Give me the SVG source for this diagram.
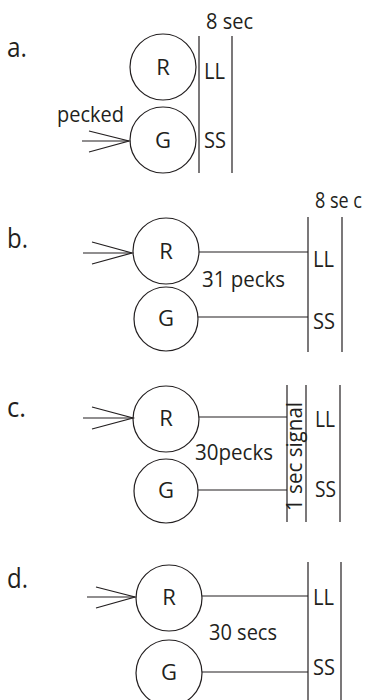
<svg xmlns="http://www.w3.org/2000/svg" width="370" height="700" viewBox="0 0 370 700">
<style>
text{font-family:"Open Sans","Noto Sans","Liberation Sans",sans-serif;fill:#231f20;font-size:22px}
.lbl{font-size:27px}
.mid{text-anchor:middle}
.node circle{fill:none;stroke:#231f20;stroke-width:1.2}
.conn line,.conn polyline{fill:none;stroke:#231f20;stroke-width:1.2}
.bar{stroke:#3a3a3a;stroke-width:1.6}
</style>
<rect width="370" height="700" fill="#fff"/>

<!-- Panel a -->
<text class="lbl" x="7" y="57" textLength="20" lengthAdjust="spacingAndGlyphs">a.</text>
<g id="a-R" class="node"><circle cx="163" cy="67" r="33"/><text class="mid" x="163" y="75">R</text></g>
<g id="a-G" class="node"><circle cx="163" cy="140" r="33"/><text class="mid" x="163" y="148">G</text></g>
<g id="a-LL"><text x="204" y="79" textLength="21" lengthAdjust="spacingAndGlyphs">LL</text></g>
<g id="a-SS"><text x="204" y="148" textLength="22" lengthAdjust="spacingAndGlyphs">SS</text></g>
<text x="206" y="29" textLength="47" lengthAdjust="spacingAndGlyphs">8 sec</text>
<text x="57" y="122" textLength="67" lengthAdjust="spacingAndGlyphs">pecked</text>
<g id="a-conn" class="conn">
<line class="bar" x1="199" y1="36" x2="199" y2="173"/>
<line class="bar" x1="232" y1="36" x2="232" y2="173"/>
<line x1="82" y1="141" x2="129" y2="141"/>
<polyline points="89,131 129,141 89,152"/>
</g>

<!-- Panel b -->
<text class="lbl" x="7" y="248" textLength="21" lengthAdjust="spacingAndGlyphs">b.</text>
<g id="b-R" class="node"><circle cx="166" cy="251" r="33"/><text class="mid" x="166" y="259">R</text></g>
<g id="b-G" class="node"><circle cx="166" cy="319" r="32"/><text class="mid" x="166" y="326">G</text></g>
<g id="b-LL"><text x="313" y="267" textLength="21" lengthAdjust="spacingAndGlyphs">LL</text></g>
<g id="b-SS"><text x="313" y="329" textLength="22" lengthAdjust="spacingAndGlyphs">SS</text></g>
<text x="315" y="208" style="font-size:21px" textLength="47" lengthAdjust="spacingAndGlyphs">8 se c</text>
<text x="202" y="287" textLength="83" lengthAdjust="spacingAndGlyphs">31 pecks</text>
<g id="b-conn" class="conn">
<line class="bar" x1="308" y1="217" x2="308" y2="352"/>
<line class="bar" x1="342" y1="217" x2="342" y2="352"/>
<line x1="199" y1="252" x2="308" y2="252"/>
<line x1="198" y1="317" x2="308" y2="317"/>
<line x1="83" y1="253" x2="132" y2="253"/>
<polyline points="92,242 132,253 92,264"/>
</g>

<!-- Panel c -->
<text class="lbl" x="7" y="417" textLength="19" lengthAdjust="spacingAndGlyphs">c.</text>
<g id="c-R" class="node"><circle cx="166" cy="419" r="33"/><text class="mid" x="166" y="426">R</text></g>
<g id="c-G" class="node"><circle cx="166" cy="491" r="32"/><text class="mid" x="166" y="498">G</text></g>
<g id="c-LL"><text x="315" y="427" textLength="20" lengthAdjust="spacingAndGlyphs">LL</text></g>
<g id="c-SS"><text x="315" y="497" textLength="21" lengthAdjust="spacingAndGlyphs">SS</text></g>
<g id="c-signal"><text transform="translate(302,511) rotate(-90)" textLength="109" lengthAdjust="spacingAndGlyphs">1 sec signal</text></g>
<text x="195" y="460" textLength="78" lengthAdjust="spacingAndGlyphs">30pecks</text>
<g id="c-conn" class="conn">
<line class="bar" x1="287" y1="385" x2="287" y2="522"/>
<line class="bar" x1="306" y1="385" x2="306" y2="522"/>
<line class="bar" x1="340" y1="385" x2="340" y2="522"/>
<line x1="199" y1="417" x2="287" y2="417"/>
<line x1="198" y1="490" x2="287" y2="490"/>
<line x1="83" y1="418" x2="133" y2="418"/>
<polyline points="92,407 133,418 92,429"/>
</g>

<!-- Panel d -->
<text class="lbl" x="7" y="588" textLength="21" lengthAdjust="spacingAndGlyphs">d.</text>
<g id="d-R" class="node"><circle cx="169" cy="598" r="33"/><text class="mid" x="169" y="605">R</text></g>
<g id="d-G" class="node"><circle cx="169" cy="673" r="33"/><text class="mid" x="169" y="680">G</text></g>
<g id="d-LL"><text x="313" y="605" textLength="21" lengthAdjust="spacingAndGlyphs">LL</text></g>
<g id="d-SS"><text x="313" y="675" textLength="22" lengthAdjust="spacingAndGlyphs">SS</text></g>
<text x="209" y="640" textLength="68" lengthAdjust="spacingAndGlyphs">30 secs</text>
<g id="d-conn" class="conn">
<line class="bar" x1="308" y1="562" x2="308" y2="700"/>
<line class="bar" x1="341" y1="562" x2="341" y2="700"/>
<line x1="202" y1="596" x2="308" y2="596"/>
<line x1="202" y1="672" x2="308" y2="672"/>
<line x1="87" y1="597" x2="135" y2="597"/>
<polyline points="96,587 135,597 96,608"/>
</g>
</svg>
